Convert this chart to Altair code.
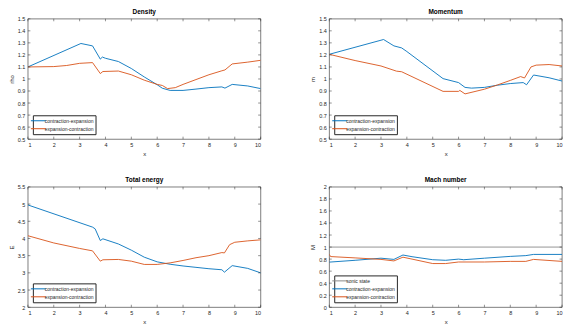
import altair as alt
import pandas as pd

FONT = "Liberation Sans"
BLUE = "#0072BD"
RED = "#D95319"
GRAY = "#8a8a8a"
CE = "contraction-expansion"
EC = "expansion-contraction"
SONIC = "sonic state"

# ---- data ----
rho_ce_x = [1, 3.05, 3.5, 3.8, 3.88, 4.0, 4.5, 5.0, 5.5, 6.0, 6.2, 6.5, 7.0, 7.5, 8.0, 8.5, 8.62, 8.9, 9.5, 10]
rho_ce_y = [1.10, 1.295, 1.275, 1.165, 1.182, 1.172, 1.145, 1.087, 1.017, 0.952, 0.923, 0.905, 0.905, 0.916, 0.928, 0.934, 0.924, 0.955, 0.942, 0.92]
rho_ec_x = [1, 2, 2.5, 3, 3.5, 3.8, 3.9, 4.5, 5, 5.5, 6, 6.2, 6.4, 6.7, 7, 7.5, 8, 8.5, 8.62, 8.9, 9.5, 10]
rho_ec_y = [1.10, 1.103, 1.112, 1.13, 1.136, 1.045, 1.062, 1.066, 1.035, 0.99, 0.955, 0.946, 0.92, 0.928, 0.955, 0.995, 1.035, 1.068, 1.075, 1.125, 1.14, 1.155]

m_ce_x = [1, 3.1, 3.5, 3.8, 4.0, 5.4, 6.0, 6.25, 6.5, 7, 7.5, 8, 8.5, 8.63, 8.9, 9.5, 10]
m_ce_y = [1.205, 1.328, 1.275, 1.258, 1.228, 1.003, 0.97, 0.93, 0.924, 0.93, 0.948, 0.962, 0.97, 0.952, 1.033, 1.01, 0.983]
m_ec_x = [1, 2, 3, 3.6, 3.8, 5.4, 6.0, 6.05, 6.25, 7, 7.5, 8, 8.4, 8.55, 8.8, 9, 9.5, 10]
m_ec_y = [1.205, 1.153, 1.108, 1.065, 1.06, 0.897, 0.897, 0.905, 0.876, 0.915, 0.95, 0.988, 1.02, 1.008, 1.1, 1.115, 1.12, 1.108]

e_ce_x = [1, 3.5, 3.6, 3.8, 3.9, 4.5, 5, 5.5, 6, 6.5, 7, 7.5, 8, 8.5, 8.6, 8.9, 9.5, 10]
e_ce_y = [4.975, 4.33, 4.28, 3.94, 3.99, 3.84, 3.66, 3.456, 3.32, 3.25, 3.2, 3.16, 3.12, 3.09, 3.02, 3.21, 3.13, 3.0]
e_ec_x = [1, 2, 3, 3.5, 3.8, 3.9, 4.5, 5, 5.5, 6, 6.5, 7, 7.5, 8, 8.5, 8.6, 8.8, 9, 9.5, 10]
e_ec_y = [4.08, 3.87, 3.71, 3.64, 3.34, 3.38, 3.39, 3.34, 3.245, 3.245, 3.29, 3.36, 3.44, 3.50, 3.59, 3.58, 3.82, 3.89, 3.93, 3.96]

mach_sonic_x = [1, 10]
mach_sonic_y = [1, 1]
mach_ce_x = [1, 2, 3, 3.5, 3.85, 4.2, 5, 5.5, 6, 6.2, 7, 8, 8.6, 8.9, 10]
mach_ce_y = [0.75, 0.78, 0.815, 0.795, 0.868, 0.84, 0.79, 0.78, 0.80, 0.79, 0.815, 0.845, 0.858, 0.878, 0.878]
mach_ec_x = [1, 1.05, 2, 3, 3.5, 3.85, 4.2, 5, 5.5, 6, 7, 8, 8.6, 8.9, 10]
mach_ec_y = [0.88, 0.842, 0.82, 0.795, 0.77, 0.832, 0.80, 0.726, 0.726, 0.752, 0.752, 0.762, 0.762, 0.795, 0.762]

x_ticks = [1, 2, 3, 4, 5, 6, 7, 8, 9, 10]
rho_ticks = [0.5, 0.6, 0.7, 0.8, 0.9, 1.0, 1.1, 1.2, 1.3, 1.4, 1.5]
e_ticks = [2, 2.5, 3, 3.5, 4, 4.5, 5, 5.5]
mach_ticks = [0, 0.2, 0.4, 0.6, 0.8, 1.0, 1.2, 1.4, 1.6, 1.8, 2.0]

W = 234
H = 121
TK = 2.5


def long(series, key):
    rows = []
    for name, xs, ys in series:
        for i, (a, b) in enumerate(zip(xs, ys)):
            rows.append({"x": a, "y": b, key: name, "o": i})
    return pd.DataFrame(rows)


def panel(key, title, ytitle, ydom, yticks, series):
    df = long(series, key)
    names = [s[0] for s in series]
    cmap = {SONIC: GRAY, CE: BLUE, EC: RED}
    xs = alt.Scale(domain=[1, 10], nice=False, zero=False)
    ys = alt.Scale(domain=ydom, nice=False, zero=False)
    xax = alt.Axis(values=x_ticks, format="d")
    yax = alt.Axis(values=yticks, format="~g")
    lines = alt.Chart(df).mark_line(strokeWidth=0.9, clip=True).encode(
        x=alt.X("x:Q", scale=xs, title="x", axis=xax),
        y=alt.Y("y:Q", scale=ys, title=ytitle, axis=yax),
        color=alt.Color(f"{key}:N", scale=alt.Scale(domain=names, range=[cmap[n] for n in names]),
                        legend=alt.Legend(orient="bottom-left", title=None, offset=5,
                                          strokeColor="#262626", fillColor="white",
                                          padding=2, rowPadding=1,
                                          symbolType="M-2.5,0L2.5,0", symbolSize=36,
                                          symbolStrokeWidth=1, labelFontSize=5,
                                          labelFont=FONT, labelColor="#262626",
                                          labelLimit=200, labelOffset=3)),
        order="o:Q",
    )
    xt = pd.DataFrame({"x": x_ticks})
    yt = pd.DataFrame({"y": yticks})
    tb = alt.Chart(xt).mark_rule(color="#262626", strokeWidth=0.5).encode(
        x=alt.X("x:Q", scale=xs, title="x", axis=xax), y=alt.value(H), y2=alt.value(H - TK))
    tt = alt.Chart(xt).mark_rule(color="#262626", strokeWidth=0.5).encode(
        x=alt.X("x:Q", scale=xs, title="x", axis=xax), y=alt.value(0), y2=alt.value(TK))
    tl = alt.Chart(yt).mark_rule(color="#262626", strokeWidth=0.5).encode(
        y=alt.Y("y:Q", scale=ys, title=ytitle, axis=yax), x=alt.value(0), x2=alt.value(TK))
    tr = alt.Chart(yt).mark_rule(color="#262626", strokeWidth=0.5).encode(
        y=alt.Y("y:Q", scale=ys, title=ytitle, axis=yax), x=alt.value(W), x2=alt.value(W - TK))
    return alt.layer(lines, tb, tt, tl, tr).properties(
        width=W, height=H,
        title=alt.TitleParams(title, fontSize=6.5, fontWeight="bold", font=FONT,
                              offset=1, color="#000000"),
    )


p1 = panel("s1", "Density", "rho", [0.5, 1.5], rho_ticks,
           [(CE, rho_ce_x, rho_ce_y), (EC, rho_ec_x, rho_ec_y)])
p2 = panel("s2", "Momentum", "m", [0.5, 1.5], rho_ticks,
           [(CE, m_ce_x, m_ce_y), (EC, m_ec_x, m_ec_y)])
p3 = panel("s3", "Total energy", "E", [2, 5.5], e_ticks,
           [(CE, e_ce_x, e_ce_y), (EC, e_ec_x, e_ec_y)])
p4 = panel("s4", "Mach number", "M", [0, 2], mach_ticks,
           [(SONIC, mach_sonic_x, mach_sonic_y), (CE, mach_ce_x, mach_ce_y), (EC, mach_ec_x, mach_ec_y)])

row1 = alt.hconcat(p1, p2, spacing=48).resolve_scale(color="independent").resolve_legend(color="independent")
row2 = alt.hconcat(p3, p4, spacing=48).resolve_scale(color="independent").resolve_legend(color="independent")

chart = alt.vconcat(row1, row2, spacing=20).resolve_scale(
    color="independent").resolve_legend(color="independent").properties(
    padding=0
).configure_view(
    stroke="#262626", strokeWidth=0.6
).configure_axis(
    domain=False, grid=False, ticks=False, labelFontSize=5.5, labelFont=FONT,
    labelColor="#262626", labelPadding=3, titleFontSize=6, titleFont=FONT,
    titleFontWeight="normal", titleColor="#262626", titlePadding=3,
)

chart.save("out.html", embed_options={"renderer": "svg", "actions": False})
